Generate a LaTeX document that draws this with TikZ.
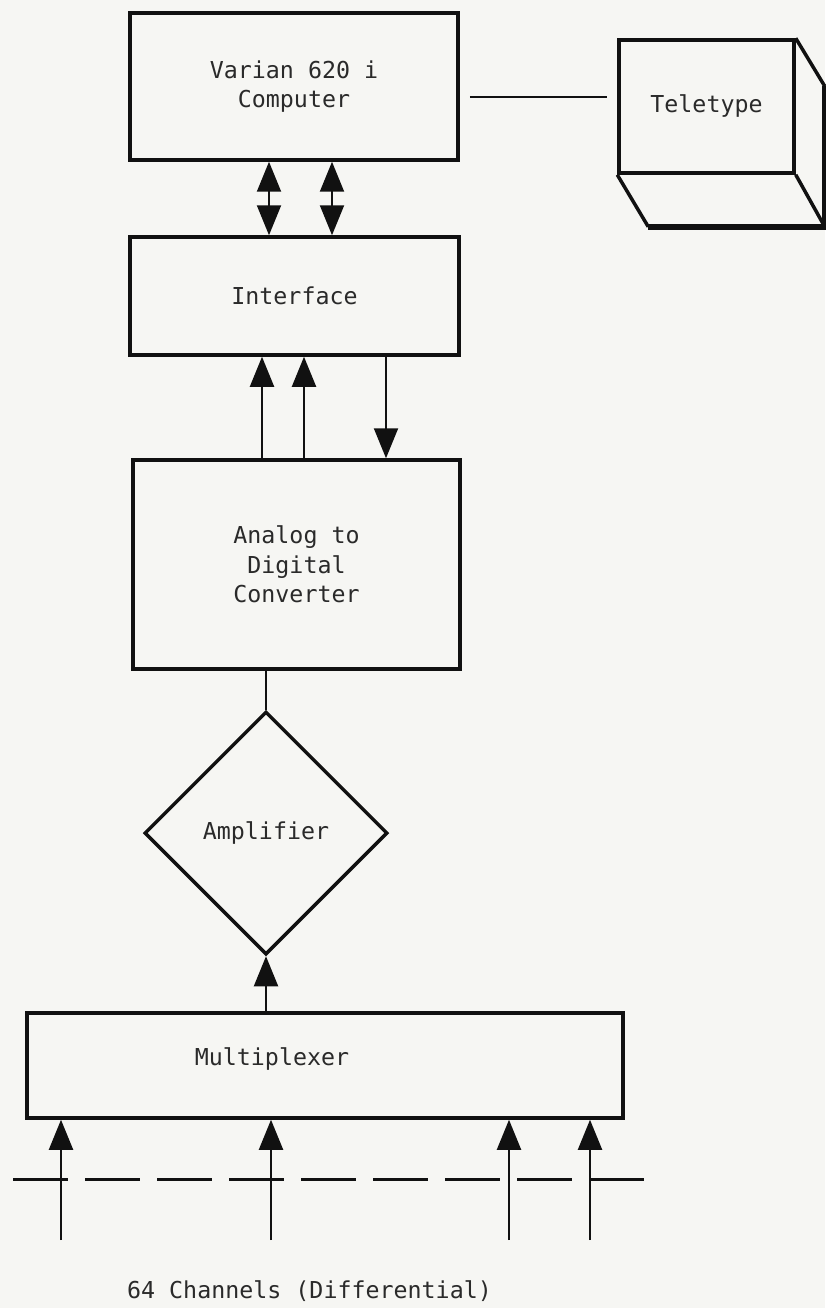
\documentclass[tikz,border=0pt]{standalone}
\usepackage{fontspec}
\usetikzlibrary{arrows.meta,shapes.geometric}
\newfontfamily\typefont{DejaVu Sans Mono}
\definecolor{PaperWhite}{HTML}{F6F6F3}
\definecolor{InkBlack}{HTML}{111111}
\definecolor{TypeGrey}{HTML}{2A2A2A}

\begin{document}
\begin{tikzpicture}[x=1pt,y=-1pt,
    font=\typefont\fontsize{23.3}{29.5}\selectfont,
    blockbox/.style={draw=InkBlack, line width=3.5pt, inner sep=0pt, align=center, text=TypeGrey},
    ampbox/.style={blockbox, diamond, aspect=1, minimum size=243pt},
    link/.style={draw=InkBlack, line width=2pt},
    arr/.style={link, -{Triangle[length=30pt,width=24pt]}},
    dblarr/.style={link, {Triangle[length=30pt,width=24pt]}-{Triangle[length=30pt,width=24pt]}}]
  \fill[PaperWhite] (0,0) rectangle (825,1308);
  \useasboundingbox (0,0) rectangle (825,1308);

  % blocks
  \node[blockbox, minimum width=328pt, minimum height=147pt] (comp) at (294,86.5) {Varian 620 i\\Computer};
  \node[blockbox, minimum width=175pt, minimum height=133pt] (tty) at (706.5,106.5) {Teletype};
  \node[blockbox, minimum width=329pt, minimum height=118pt] (iface) at (294.5,296) {Interface};
  \node[blockbox, minimum width=327pt, minimum height=209pt] (adc) at (296.5,564.5) {Analog to\\Digital\\Converter};
  \node[ampbox] (amp) at (266,833) {Amplifier};
  \node[blockbox, minimum width=596pt, minimum height=105pt] (mux) at (325,1065.5) {};
  \node[text=TypeGrey, anchor=base] (muxtext) at (272,1065) {Multiplexer};

  % teletype body
  \coordinate (tbl) at ([shift={(31,52)}]tty.south west);
  \coordinate (tbr) at ([shift={(29,52)}]tty.south east);
  \coordinate (ttr) at ([shift={(29,48)}]tty.north east);
  \draw[InkBlack, line width=3.5pt] (tty.south west) -- (tbl);
  \draw[InkBlack, line width=3.5pt] (tty.north east) -- (ttr);
  \draw[InkBlack, line width=3.5pt] (tty.south east) -- (tbr);
  \draw[InkBlack, line width=6pt, line join=miter] (tbl) -- (tbr) -- (ttr);

  % connections
  \draw[link, line width=1.5pt, shorten <=10pt, shorten >=10pt]
    ([yshift=-10.5pt]comp.east) -- ([yshift=-10.5pt]comp.east -| tty.west);
  \foreach \dx in {-25,38}
    \draw[dblarr] ([xshift=\dx]comp.south) -- ([xshift=\dx]comp.south |- iface.north);
  \foreach \dx in {-34.5,7.5}
    \draw[arr] ([xshift=\dx]adc.north) -- ([xshift=\dx]adc.north |- iface.south);
  \draw[arr] ([xshift=91.5]iface.south) -- ([xshift=91.5]iface.south |- adc.north);
  \draw[link] (amp.north |- adc.south) -- (amp.north);
  \draw[arr] (amp.south |- mux.north) -- (amp.south);

  % channel inputs
  \foreach \x [count=\i] in {61,271,509,590} {
    \coordinate (in\i) at (\x,1240);
    \draw[arr] (in\i) -- (in\i |- mux.south);
  }
  \coordinate (dl) at (13,1179);
  \coordinate (dr) at (647,1179);
  \draw[link, line width=3pt, dash pattern=on 55pt off 17pt] (dl) -- (dr);
  \node[text=TypeGrey, anchor=base] (chan) at (309.5,1298) {64 Channels (Differential)};
\end{tikzpicture}
\end{document}
